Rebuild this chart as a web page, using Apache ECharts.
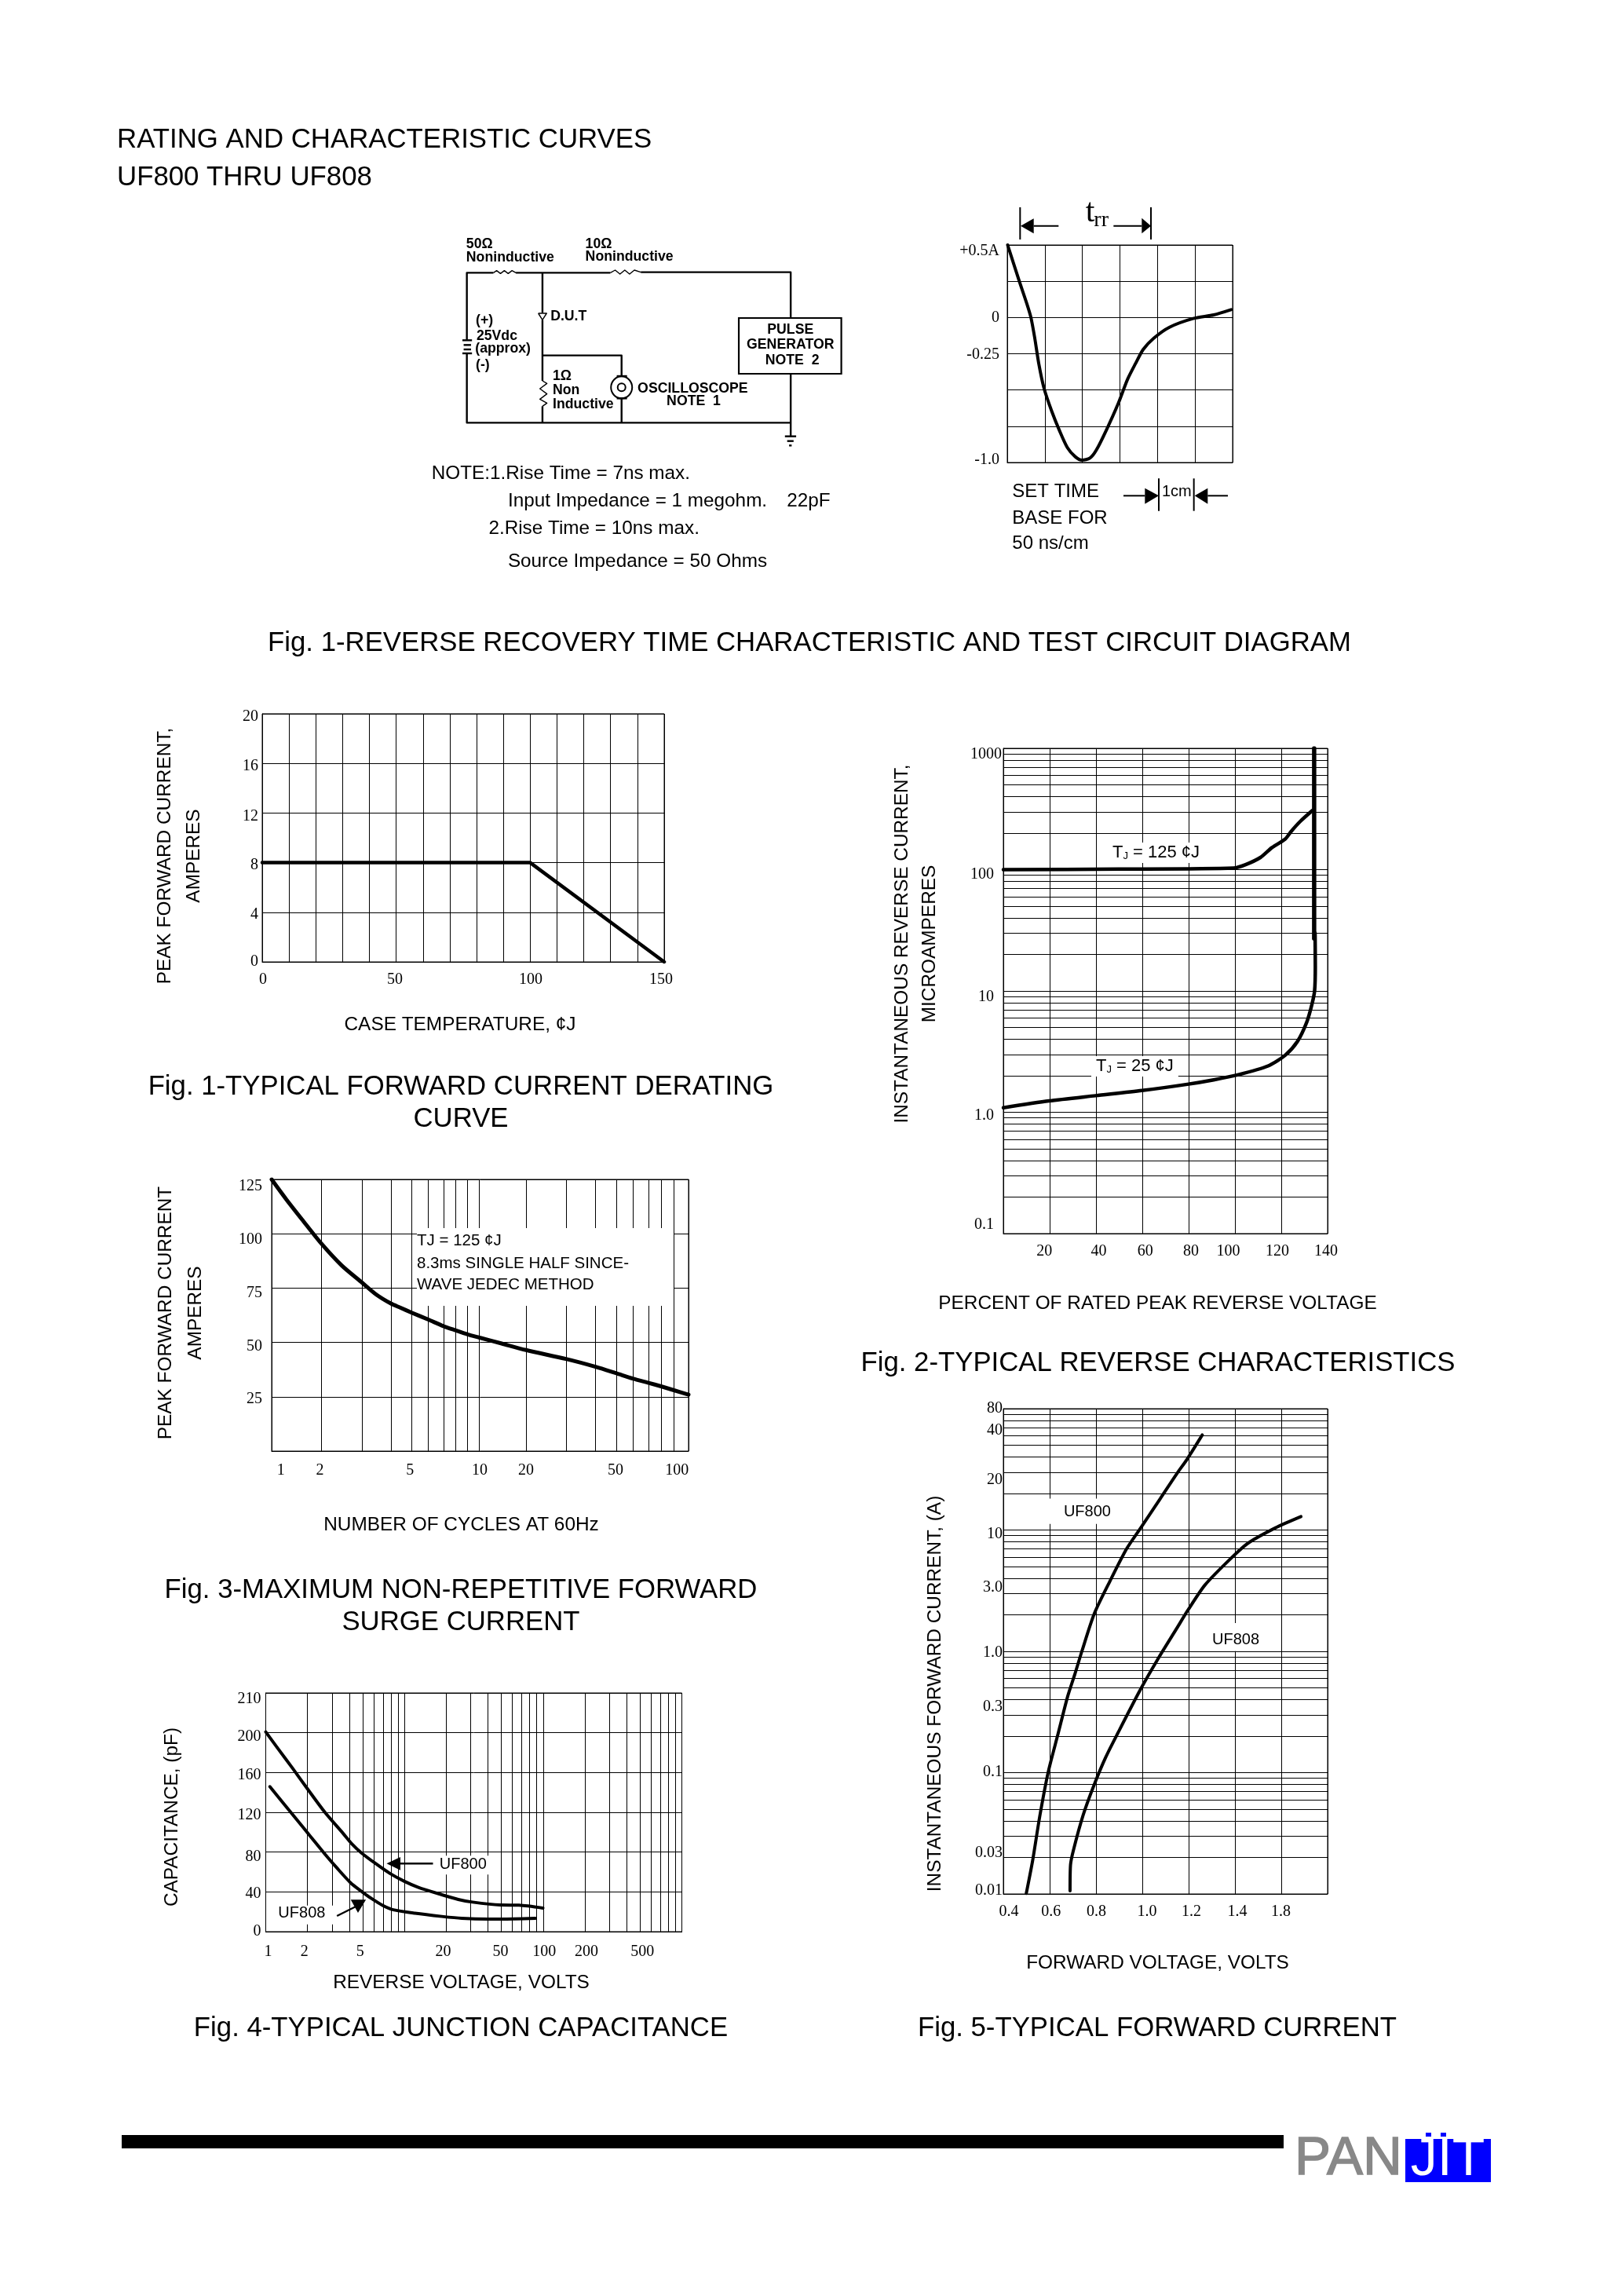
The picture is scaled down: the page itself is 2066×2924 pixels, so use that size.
<!DOCTYPE html>
<html><head><meta charset="utf-8">
<style>html,body{margin:0;padding:0;background:#fff}#c{width:2066px;height:2924px}</style>
<script src="https://cdn.jsdelivr.net/npm/echarts@6/dist/echarts.min.js"></script>
</head><body><div id="c"></div>
<script>
// ---------- data ----------
const trrTime = [0.01,0.31,0.52,0.63,0.73,0.84,0.98,1.18,1.39,1.6,1.81,1.99,2.2,2.37,2.65,2.96,3.2,3.41,3.62,3.9,4.32,4.95,5.5,5.96];
const trrCurrent = [0.5,0.258,0.096,0,-0.139,-0.32,-0.49,-0.644,-0.78,-0.897,-0.96,-0.984,-0.97,-0.915,-0.77,-0.59,-0.428,-0.32,-0.22,-0.143,-0.067,-0.007,0.018,0.054];
const trrLabels = ['+0.5A','0','-0.25','-1.0'];

const deratingTemp = [0,100,150];
const deratingCurrent = [8,8,0];
const deratingXLabels = ['0','50','100','150'];
const deratingYLabels = ['20','16','12','8','4','0'];

const reversePct125 = [0,50,99.4,104.6,111,116,121.6,124.3,128.3,133.5];
const reverseCur125 = [100,101,103,110,126,152,178,207,251,308];
const reversePct25 = [0,19.7,39.8,59.9,79.4,90.8,101.5,114.3,121.6,127,131,133.2,134.4,134.7,134.6];
const reverseCur25 = [1.09,1.24,1.37,1.51,1.7,1.85,2.04,2.41,2.94,3.84,5.53,7.7,10.07,16,30];
const reverseBreakPct = [134.2,134.2];
const reverseBreakCur = [27,1000];
const reverseXLabels = ['20','40','60','80','100','120','140'];
const reverseYLabels = ['1000','100','10','1.0','0.1'];

const surgeCycles = [1,1.22,1.53,2,2.45,3,3.46,4,4.4,5,6,7,8,9,10,14,20,30,40,50,60,70,80,90,100];
const surgeAmps = [125,116,106.4,95.3,85.3,77.5,72,67.9,66.1,63.7,60.5,57.5,55.5,53.7,52.3,49.5,46.5,42.4,38.8,35.8,33.4,31.4,29.8,28,26];
const surgeXLabels = ['1','2','5','10','20','50','100'];
const surgeYLabels = ['125','100','75','50','25'];
const surgeGridCycles = [1,2,3,4,5,6,7,8,9,10,20,30,40,50,60,70,80,90,100];

const capV800 = [1,1.225,1.557,1.977,2.67,3.6,4.17,4.9,6.16,7.82,9.92,12.6,18.6,24.4,31,49,67,99.6];
const capC800 = [200.8,184,164.5,144.5,120,99,88.4,79.2,68.7,58.7,50.8,44.5,37.1,32.4,29.7,26.8,26.6,23.7];
const capV808 = [1.07,1.34,1.65,2.1,2.67,3.29,4.1,4.85,5.8,6.95,8.3,11.9,18.6,25.9,40,50,88];
const capC808 = [145.8,129,113.7,95.8,78,63.4,49,41,33.2,26.5,22,18.5,15.3,13.4,12.6,12.6,13.4];
const capXLabels = ['1','2','5','20','50','100','200','500'];
const capYLabels = ['210','200','160','120','80','40','0'];

const fwdV800 = [0.499,0.527,0.557,0.594,0.636,0.678,0.709,0.739,0.793,0.86,0.932,0.993,1.078,1.15,1.194,1.259];
const fwdI800 = [0.0101,0.0191,0.0434,0.1016,0.208,0.427,0.65,1,2.05,3.78,6.99,10.4,18.2,29.3,38.5,60.8];
const fwdV808 = [0.688,0.69,0.702,0.745,0.793,0.842,0.896,0.993,1.065,1.15,1.194,1.271,1.393,1.459,1.574,1.685];
const fwdI808 = [0.0106,0.0173,0.0227,0.0449,0.0802,0.134,0.215,0.489,0.85,1.56,2.14,3.53,6.1,7.85,10.4,12.9];
const fwdXLabels = ['0.4','0.6','0.8','1.0','1.2','1.4','1.8'];
const fwdYLabels = ['80','40','20','10','3.0','1.0','0.3','0.1','0.03','0.01'];

// ---------- where the printed tick labels and paper rulings sit ----------
const trrLabelAt = [0.457,-0.004,-0.256,-0.98];
const deratingXAt = [0.3,49.5,100.2,148.8], deratingYAt = [19.75,15.75,11.7,7.8,3.8,0];
const reverseXAt = [17.7,41.2,61.3,81,97.1,118.3,139.3], reverseYAt = [893,91.4,8.93,0.933,0.1188];
const surgePaper = [0,12,21.7,28.6,33.6,37.6,41.2,44.2,47,49.7,61,70.6,77.7,82.7,86.6,90.4,93.4,96.5,100];
const surgeXAt = [2.2,11.6,33.2,49.9,61,82.5,97.2], surgeYAt = [122,97.4,72.6,48.1,23.8];
const capXAt = [1.04,1.9,4.79,19,49.3,102,205,520], capYAt = [234,196,157.6,117,75,38,0];
const fwdXAt = [0.424,0.606,0.802,1.02,1.212,1.41,1.598], fwdYAt = [100,66,25.9,9.2,3.36,0.98,0.3475,0.1016,0.0219,0.0106];

const SANS='"Liberation Sans"', SERIF='"Liberation Serif"';
const zip=(a,b)=>a.map((v,i)=>[v,b[i]]);
const logRulings=(lo,hi)=>{const r=[];for(let d=lo;d<hi;d++)for(let m=1;m<10;m++)r.push(+(m*Math.pow(10,d)).toPrecision(3));r.push(Math.pow(10,hi));return r;};
const range=(a,b,s)=>{const r=[];for(let v=a;v<=b+1e-9;v+=s)r.push(+v.toFixed(6));return r;};
const pick=(at,txt)=>v=>{let b=0,d=1e18;at.forEach((a,i)=>{const e=Math.abs(Math.log(Math.abs(a)+1)-Math.log(Math.abs(v)+1))+Math.abs(a-v);if(e<d){d=e;b=i;}});return txt[b];};
function paper(c){for(let i=1;i<surgeGridCycles.length;i++){if(c<=surgeGridCycles[i]){const a=surgeGridCycles[i-1],b=surgeGridCycles[i];return surgePaper[i-1]+(surgePaper[i]-surgePaper[i-1])*Math.log(c/a)/Math.log(b/a);}}return 100;}

const grids=[
 {left:1283,top:312,width:287,height:277},
 {left:334,top:909,width:512,height:316},
 {left:1278,top:953,width:413,height:618},
 {left:346,top:1502,width:531,height:346},
 {left:338.5,top:2156,width:530,height:304},
 {left:1278,top:1794,width:413,height:618}
].map(g=>Object.assign(g,{show:true,borderColor:'#000',borderWidth:1,backgroundColor:'#fff'}));

function axis(i,dim,o){
 const a={gridIndex:i,type:o.type||'value',min:o.min,max:o.max,
  axisLine:{show:true,onZero:false,lineStyle:{color:'#000',width:1}},
  axisTick:{show:false,customValues:o.ticks},
  splitLine:{show:true,lineStyle:{color:'#000',width:1}},
  minorTick:{show:false},minorSplitLine:{show:false},
  axisLabel:o.at?{show:true,customValues:o.at,formatter:o.fmt||pick(o.at,o.txt),margin:o.margin,color:'#000',fontFamily:SERIF,fontSize:20,hideOverlap:false,showMinLabel:true,showMaxLabel:true,rich:o.rich}:{show:false}};
 if(o.logBase)a.logBase=o.logBase;
 if(o.name){a.name=o.name;a.nameLocation='middle';a.nameGap=o.gap;
  a.nameTextStyle={color:'#000',fontFamily:SANS,fontSize:24.4,lineHeight:o.lh||28,padding:o.pad||0};
  if(dim==='y')a.nameRotate=90;}
 return a;
}
const xAxis=[
 axis(0,'x',{min:0,max:6,ticks:range(0,6,1)}),
 axis(1,'x',{min:0,max:150,ticks:range(0,150,10),at:deratingXAt,txt:deratingXLabels,margin:13,name:'CASE TEMPERATURE, ¢J',gap:66,pad:[0,8,0,0]}),
 axis(2,'x',{min:0,max:140,ticks:range(0,140,20),at:reverseXAt,txt:reverseXLabels,margin:13,name:'PERCENT OF RATED PEAK REVERSE VOLTAGE',gap:75,pad:[0,20,0,0]}),
 axis(3,'x',{min:0,max:100,ticks:surgePaper,at:surgeXAt,txt:surgeXLabels,margin:15,name:'NUMBER OF CYCLES AT 60Hz',gap:80,pad:[0,48,0,0]}),
 axis(4,'x',{type:'log',logBase:10,min:1,max:1000,ticks:logRulings(0,3),at:capXAt,txt:capXLabels,margin:16,name:'REVERSE VOLTAGE, VOLTS',gap:51,pad:[0,32,0,0]}),
 axis(5,'x',{min:0.4,max:1.8,ticks:range(0.4,1.8,0.2),at:fwdXAt,txt:fwdXLabels,margin:13,name:'FORWARD VOLTAGE, VOLTS',gap:74,pad:[0,20,0,0]})
];
const yAxis=[
 axis(0,'y',{min:-1,max:0.5,ticks:range(-1,0.5,0.25),at:trrLabelAt,txt:trrLabels,margin:10}),
 axis(1,'y',{min:0,max:20,ticks:range(0,20,4),at:deratingYAt,txt:deratingYLabels,margin:5,name:'PEAK FORWARD CURRENT,\nAMPERES',gap:68,lh:37,pad:[0,46,0,0]}),
 axis(2,'y',{type:'log',logBase:10,min:0.1,max:1000,ticks:logRulings(-1,3),at:reverseYAt,
   fmt:v=>{const s=pick(reverseYAt,reverseYLabels)(v);return s==='1000'?s:'{p|'+s+'}';},rich:{p:{padding:[0,10,0,0],fontFamily:SERIF,fontSize:20,color:'#000'}},margin:2,
   name:'INSTANTANEOUS REVERSE CURRENT,\nMICROAMPERES',gap:76,lh:35,pad:[0,0,0,120]}),
 axis(3,'y',{min:0,max:125,ticks:range(0,125,25),at:surgeYAt,txt:surgeYLabels,margin:12,name:'PEAK FORWARD CURRENT\nAMPERES',gap:78,lh:38,pad:[0,0,0,6]}),
 axis(4,'y',{min:0,max:240,ticks:range(0,240,40),at:capYAt,txt:capYLabels,margin:6,name:'CAPACITANCE, (pF)',gap:105,pad:[0,12,0,0]}),
 axis(5,'y',{type:'log',logBase:10,min:0.01,max:100,ticks:logRulings(-2,2),at:fwdYAt,txt:fwdYLabels,margin:1,name:'INSTANTANEOUS FORWARD CURRENT, (A)',gap:73,pad:[0,108,0,0]})
];
const curve=(name,i,data,w,smooth)=>({name,type:'line',xAxisIndex:i,yAxisIndex:i,data,showSymbol:false,symbol:'none',smooth:smooth===undefined?0.25:smooth,lineStyle:{color:'#000',width:w,cap:'round',join:'round'},z:5,animation:false});
const series=[
 curve('Reverse recovery',0,zip(trrTime,trrCurrent),4),
 curve('Derating',1,zip(deratingTemp,deratingCurrent),4.5,0),
 curve('TJ=125',2,zip(reversePct125,reverseCur125),4.5),
 curve('TJ=25',2,zip(reversePct25,reverseCur25),4.5),
 curve('Breakdown',2,zip(reverseBreakPct,reverseBreakCur),5.5,0),
 curve('Surge',3,surgeCycles.map((c,i)=>[paper(c),surgeAmps[i]]),5),
 curve('UF800 capacitance',4,zip(capV800,capC800),4),
 curve('UF808 capacitance',4,zip(capV808,capC808),4),
 curve('UF800 forward',5,zip(fwdV800,fwdI800),4),
 curve('UF808 forward',5,zip(fwdV808,fwdI808),4)
];
const cap=(text,cx,y)=>({text,left:cx,top:y,textAlign:'center',padding:0,itemGap:0,textStyle:{fontFamily:SANS,fontSize:34.75,fontWeight:'normal',color:'#000',lineHeight:41}});
const title=[
 cap('Fig. 1-REVERSE RECOVERY TIME CHARACTERISTIC AND TEST CIRCUIT DIAGRAM',1031,799),
 cap('Fig. 1-TYPICAL FORWARD CURRENT DERATING\nCURVE',587,1364),
 cap('Fig. 2-TYPICAL REVERSE CHARACTERISTICS',1475,1716),
 cap('Fig. 3-MAXIMUM NON-REPETITIVE FORWARD\nSURGE CURRENT',587,2005),
 cap('Fig. 4-TYPICAL JUNCTION CAPACITANCE',587,2563),
 cap('Fig. 5-TYPICAL FORWARD CURRENT',1474,2563)
];
// ---------- drawn annotations ----------
const g=[];
const L=(pts,w,c)=>g.push({type:'polyline',z:100,shape:{points:pts},style:{stroke:c||'#000',lineWidth:w||2,fill:null,lineJoin:'round'}});
const P=(pts,c)=>g.push({type:'polygon',z:100,shape:{points:pts},style:{fill:c||'#000',stroke:null}});
const T=(text,x,y,o)=>{o=o||{};g.push({type:'text',z:o.z||101,x,y,style:Object.assign({text,fill:'#000',font:(o.b?'bold ':'')+(o.s||24)+'px '+(o.f||SANS),textAlign:o.a||'left',textVerticalAlign:'middle'},o.st||{})});};
const R=(x,y,w,h,fill,stroke,lw)=>g.push({type:'rect',z:100,shape:{x,y,width:w,height:h},style:{fill:fill||null,stroke:stroke||null,lineWidth:lw||0}});
T('RATING AND CHARACTERISTIC CURVES',149,178,{s:34.8});
T('UF800 THRU UF808',149,226,{s:34.8});

// test circuit
const X1=p=>500+p*0.408, Y1=p=>250+p/3;
const L1=(a,w)=>L(a.map(q=>[X1(q[0]),Y1(q[1])]),w===undefined?2.4:w);
L1([[232,548],[232,292],[315,292]]);
L1([[315,292],[325,284],[337,295],[349,284],[361,295],[373,284],[385,292]],1.4);
L1([[385,292],[680,292]]);
L1([[680,292],[695,282],[710,297],[725,282],[740,297],[755,282],[775,290]],1.4);
L1([[775,290],[1243,290],[1243,465]]);
L1([[1243,678],[1243,915]]);
L1([[232,600],[232,865],[1243,865]]);
L1([[468,292],[468,445]]);
P([[X1(455),Y1(447)],[X1(481),Y1(447)],[X1(468),Y1(472)]],'#fff');
L1([[455,447],[481,447],[468,472],[455,447]],1.4);
L1([[468,472],[468,705]]);
L1([[468,705],[482,715],[460,735],[482,755],[460,775],[482,790],[468,802]],1.4);
L1([[468,802],[468,865]]);
L1([[468,608],[715,608],[715,690]]);
L1([[700,687],[732,687]]);L1([[700,772],[732,772]]);L1([[715,772],[715,865]]);
g.push({type:'ellipse',z:100,shape:{cx:X1(715),cy:Y1(730),rx:13.5,ry:14},style:{stroke:'#000',lineWidth:2,fill:null}});
g.push({type:'circle',z:100,shape:{cx:X1(715),cy:Y1(730),r:5},style:{stroke:'#000',lineWidth:2,fill:null}});
R(X1(1081),Y1(465),320*0.408,213/3,'#fff','#000',2.2);
L1([[218,550],[248,550]]);L1([[222,568],[245,568]]);L1([[222,585],[245,585]]);L1([[218,600],[248,600]]);
L1([[1225,917],[1260,917]]);L1([[1232,935],[1252,935]]);L1([[1238,952],[1246,952]]);
const B={b:true,s:17.7};
T('50Ω',X1(230),Y1(182),B);T('Noninductive',X1(230),Y1(235),B);
T('10Ω',X1(602),Y1(182),B);T('Noninductive',X1(602),Y1(232),B);
T('(+)',X1(260),Y1(473),B);T('25Vdc',X1(262),Y1(533),B);T('(approx)',X1(258),Y1(583),B);T('(-)',X1(260),Y1(645),B);
T('D.U.T',X1(493),Y1(460),B);
const BC={b:true,s:17.7,a:'center'};
T('PULSE',X1(1242),Y1(510),BC);T('GENERATOR',X1(1242),Y1(568),BC);T('NOTE  2',X1(1248),Y1(626),BC);
T('1Ω',X1(500),Y1(688),B);T('Non',X1(500),Y1(740),B);T('Inductive',X1(500),Y1(795),B);
T('OSCILLOSCOPE',X1(765),Y1(735),B);T('NOTE  1',X1(940),Y1(783),BC);
const N={s:24.3};
T('NOTE:1.Rise Time = 7ns max.',X1(122),Y1(1060),N);
T('Input Impedance = 1 megohm.\u00a0\u00a0\u00a0\u200922pF',X1(360),Y1(1165),N);
T('2.Rise Time = 10ns max.',X1(300),Y1(1270),N);
T('Source Impedance = 50 Ohms',X1(360),Y1(1396),N);

// trr scope annotations
const X2=p=>1180+p/3, Y2=p=>240+p/3;
const L2=(a,w)=>L(a.map(q=>[X2(q[0]),Y2(q[1])]),w===undefined?2:w);
const P2=a=>P(a.map(q=>[X2(q[0]),Y2(q[1])]));
L2([[358,72],[358,195]]);L2([[858,72],[858,195]]);
P2([[360,143],[410,115],[410,172]]);L2([[410,143],[505,143]]);
P2([[858,143],[823,113],[823,172]]);L2([[715,143],[823,143]]);
T('t',X2(608),271,{f:SERIF,s:42});T('rr',X2(640),280.5,{f:SERIF,s:28});
T('SET TIME',X2(328),Y2(1160));T('BASE FOR',X2(328),Y2(1260));T('50 ns/cm',X2(328),Y2(1357));
T('1cm',X2(900),Y2(1160),{s:20});
L2([[888,1108],[888,1232]]);L2([[1022,1108],[1022,1232]]);
L2([[753,1174],[835,1174]]);P2([[888,1174],[835,1145],[835,1205]]);
P2([[1025,1174],[1075,1145],[1075,1205]]);L2([[1075,1174],[1152,1174]]);

// reverse-characteristic notes
const tj=b=>({text:'{a|T}{b|J}{a| = '+b+' ¢J}',textVerticalAlign:'middle',backgroundColor:'#fff',padding:[2,6],rich:{a:{fontFamily:SANS,fontSize:22,fill:'#000'},b:{fontFamily:SANS,fontSize:13,fill:'#000',verticalAlign:'bottom'}}});
g.push({type:'text',z:101,x:1411,y:1086,style:tj(125)});
g.push({type:'text',z:101,x:1390,y:1358,style:tj(25)});

// surge note
R(531,1564,327,99,'#fff');
const S={s:20.5};
T('TJ = 125 ¢J',531,1580,S);T('8.3ms SINGLE HALF SINCE-',531,1609,S);T('WAVE JEDEC METHOD',531,1636,S);

// capacitance notes
const X4=p=>180+p*0.4615, Y4=p=>2150+p/3;
R(X4(805),Y4(640),X4(985)-X4(805),24,'#fff');
R(X4(375),Y4(830),X4(530)-X4(375),Y4(902)-Y4(830),'#fff');
T('UF800',X4(825)-1,Y4(672),{s:20});T('UF808',X4(380)-1,Y4(858),{s:20});
L([[X4(805),Y4(670)],[X4(710),Y4(670)]],2.5);
P([[X4(677),Y4(670)],[X4(715),Y4(645)],[X4(715),Y4(695)]]);
L([[X4(540),Y4(870)],[X4(605),Y4(825)]],2.5);
P([[X4(620),Y4(808)],[X4(578),Y4(808)],[X4(598),Y4(858)]]);

// forward-current notes
const X5=p=>1170+p*0.359, Y5=p=>1780+p*0.459;
R(X5(440),Y5(280),X5(710)-X5(440),Y5(350)-Y5(280),'#fff');
R(X5(980),Y5(625),X5(1280)-X5(980),Y5(703)-Y5(625),'#fff');
T('UF800',X5(515),Y5(318),{s:20});T('UF808',X5(1042),Y5(672),{s:20});

// footer
R(155,2719,1480,17,'#000');
T('PAN',1649,2750,{s:69,st:{fill:'#888',stroke:'#888',lineWidth:1.5}});
R(1790,2724,109,55,'#00f');
R(1816,2716,7,5,'#00f');R(1835,2716,7,5,'#00f');
T('JIT',1844,2751,{s:68,a:'center',st:{fill:'#fff'}});

const chart=echarts.init(document.getElementById('c'),null,{renderer:'canvas',width:2066,height:2924});
chart.setOption({animation:false,backgroundColor:'#fff',title,grid:grids,xAxis,yAxis,series,graphic:{elements:g},tooltip:{show:false}});
</script></body></html>
